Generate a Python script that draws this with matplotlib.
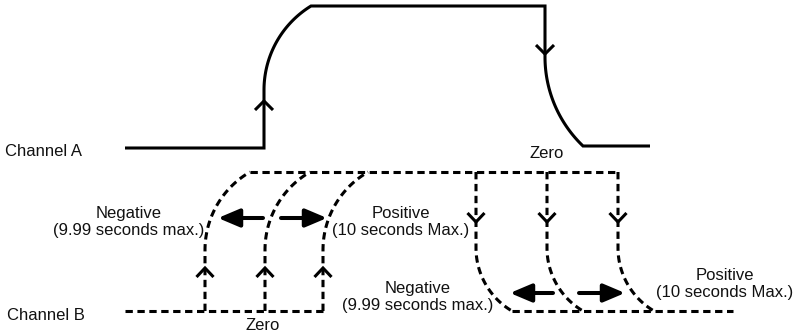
import numpy as np
import matplotlib
matplotlib.use("Agg")
import matplotlib.pyplot as plt

plt.rcParams['font.family'] = ['Liberation Sans', 'DejaVu Sans']

# ---- diagram geometry (pixel coordinates, y downward) ----
# Channel A (solid)
a_base_y = 148
a_left_x = 125
a_rise_x = 264
a_rise_curve = (264, 90, 311, 6)     # vertical point -> end point
a_top_y = 6
a_fall_x = 545
a_fall_curve = (545, 57, 583, 146)
a_right_x = 650
a_low_y = 146
a_up_arrow = (264, 101)
a_down_arrow = (545, 54)

# Channel B (dashed)
b_base_y = 311
b_top_y = 172
b_left_x = 125
b_right_x = 733
b_rise_x = [205, 265, 323]
b_rise_dx, b_rise_vert_y = 45, 250
b_fall_x = [476, 547, 618]
b_fall_dx, b_fall_vert_y = 36, 248
b_up_arrow_y = 268
b_down_arrow_y = 222

# labels
labels = [
    ("Channel A", 5, 151, 'left'),
    ("Channel B", 7, 315, 'left'),
    ("Zero", 547, 153, 'center'),
    ("Zero", 263, 325, 'center'),
    ("Negative\n(9.99 seconds max.)", 129, 222, 'center'),
    ("Positive\n(10 seconds Max.)", 401, 222, 'center'),
    ("Negative\n(9.99 seconds max.)", 418, 297, 'center'),
    ("Positive\n(10 seconds Max.)", 725, 284, 'center'),
]
# horizontal filled arrows (tail_x, tip_x, y)
h_arrows = [(263, 218, 218), (281, 327, 218), (553, 510, 293), (579, 625, 293)]


def arc(xv, yv, xe, ye, n=60):
    """circular arc tangent to vertical at (xv,yv), ending at (xe,ye)."""
    dx = xe - xv
    dy = ye - yv
    phi = 2 * np.arctan(abs(dx) / abs(dy))
    R = abs(dy) / np.sin(phi)
    t = np.linspace(0, phi, n)
    xs = xv + np.sign(dx) * R * (1 - np.cos(t))
    ys = yv + np.sign(dy) * R * np.sin(t)
    return xs, ys


fig = plt.figure(figsize=(7.97, 3.34), dpi=100)
ax = fig.add_axes([0, 0, 1, 1])
ax.set_xlim(0, 797)
ax.set_ylim(334, 0)
ax.axis('off')

LW = 2.2
solid = dict(color='black', lw=LW, solid_capstyle='butt', solid_joinstyle='miter')
dash = dict(color='black', lw=LW, linestyle=(0, (2.4, 1.5)), dash_capstyle='butt')

# Channel A path
xs1, ys1 = arc(*a_rise_curve)
xs2, ys2 = arc(*a_fall_curve)
ax_x = np.concatenate([[a_left_x, a_rise_x], xs1, [a_fall_x], xs2, [a_right_x]])
ax_y = np.concatenate([[a_base_y, a_base_y], ys1, [a_top_y], ys2, [a_low_y]])
ax.plot(ax_x, ax_y, **solid)


def chevron(x, y, up, w=9, h=9):
    s = 1 if up else -1
    ax.plot([x - w, x, x + w], [y + s * h, y, y + s * h], **solid)


chevron(*a_up_arrow, up=True)
chevron(*a_down_arrow, up=False)

# Channel B
ax.plot([b_left_x, b_rise_x[-1]], [b_base_y, b_base_y], **dash)
ax.plot([b_rise_x[0] + b_rise_dx, b_fall_x[-1]], [b_top_y, b_top_y], **dash)
for x in b_rise_x:
    cx, cy = arc(x, b_rise_vert_y, x + b_rise_dx, b_top_y)
    ax.plot(np.concatenate([[x], cx]), np.concatenate([[b_base_y], cy]), **dash)
    chevron(x, b_up_arrow_y, up=True, w=8.5, h=9)
for x in b_fall_x:
    cx, cy = arc(x, b_fall_vert_y, x + b_fall_dx, b_base_y)
    ax.plot(np.concatenate([[x], cx]), np.concatenate([[b_top_y], cy]), **dash)
    chevron(x, b_down_arrow_y, up=False, w=8.5, h=9)
ax.plot([b_fall_x[0] + b_fall_dx, b_right_x], [b_base_y, b_base_y], **dash)

for tail, tip, y in h_arrows:
    ax.annotate('', xy=(tip, y), xytext=(tail, y),
                arrowprops=dict(arrowstyle='-|>,head_length=1.3,head_width=0.55',
                                mutation_scale=10, lw=2.9, color='black',
                                shrinkA=0, shrinkB=0))

for txt, x, y, ha in labels:
    ax.text(x, y, txt, ha=ha, va='center', fontsize=12, color='#111111',
            linespacing=1.15)

fig.savefig('out.png', dpi=100)
